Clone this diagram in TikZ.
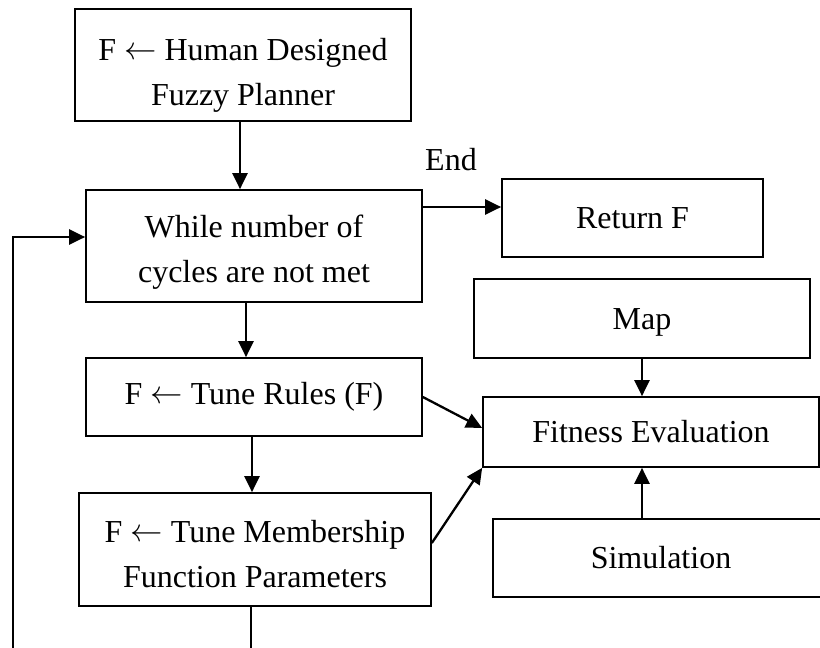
\documentclass[tikz,border=0pt]{standalone}
\usepackage{fontspec}
\usepackage{graphicx}
\setmainfont{Liberation Serif}
\usetikzlibrary{arrows.meta,calc}
\newcommand{\larr}{\raisebox{1pt}{\scalebox{1.3}{$\leftarrow$}}}
\begin{document}
\begin{tikzpicture}[x=1pt,y=-1pt,
  box/.style={draw,line width=1.7pt,rectangle,align=center,inner sep=0pt,
    font=\fontsize{32}{45}\selectfont},
  txt/.style={align=center,inner sep=0pt,font=\fontsize{32}{45}\selectfont},
  arr/.style={line width=2.3pt,-{Triangle[length=16pt,width=15pt]}},
  ln/.style={line width=2.3pt}]
\useasboundingbox (0,0) rectangle (820,648);
\node[box,minimum width=336pt,minimum height=112pt] (b1) at (243,65) {};
\node[txt] (t1) at (243,75) {F \larr{} Human Designed\\Fuzzy Planner};
\node[box,minimum width=336pt,minimum height=112pt] (b2) at (254,246) {};
\node[txt] (t2) at (254,252) {While number of\\cycles are not met};
\node[box,minimum width=336pt,minimum height=78pt] (b3) at (254,397) {F \larr{} Tune Rules (F)};
\node[box,minimum width=352pt,minimum height=113pt] (b4) at (255,549.5) {};
\node[txt] (t4) at (255,554) {F \larr{} Tune Membership\\Function Parameters};
\node[box,minimum width=261pt,minimum height=78pt] (ret) at (632.5,218) {Return F};
\node[box,minimum width=336pt,minimum height=79pt] (map) at (642,318.5) {};
\node[txt] (tm) at (642,322) {Map};
\node[box,minimum width=336pt,minimum height=70pt] (fit) at (651,432) {Fitness Evaluation};
\node[box,minimum width=336pt,minimum height=78pt] (sim) at (661,558) {Simulation};
\node[txt] (end) at (451,160) {End};
\coordinate (c1) at (251,648);
\coordinate (c2) at (13,648);
\draw[arr] (b1.south -| 240,0) -- (b2.north -| 240,0);
\draw[arr] (b2.south -| 246,0) -- (b3.north -| 246,0);
\draw[arr] (b3.south -| 252,0) -- (b4.north -| 252,0);
\draw[ln] (b4.south -| c1) -- (c1);
\draw[arr] (c2) -- (c2 |- 0,237) -- (b2.west |- 0,237);
\draw[arr] (b2.east |- 0,207) -- (ret.west |- 0,207);
\draw[arr] (map.south -| 642,0) -- (fit.north -| 642,0);
\draw[arr] (sim.north -| 642,0) -- (fit.south -| 642,0);
\draw[arr] (b3.east) -- (fit.west |- 0,428);
\draw[arr] (b4.east |- 0,543) -- (fit.south west);
\end{tikzpicture}
\end{document}
